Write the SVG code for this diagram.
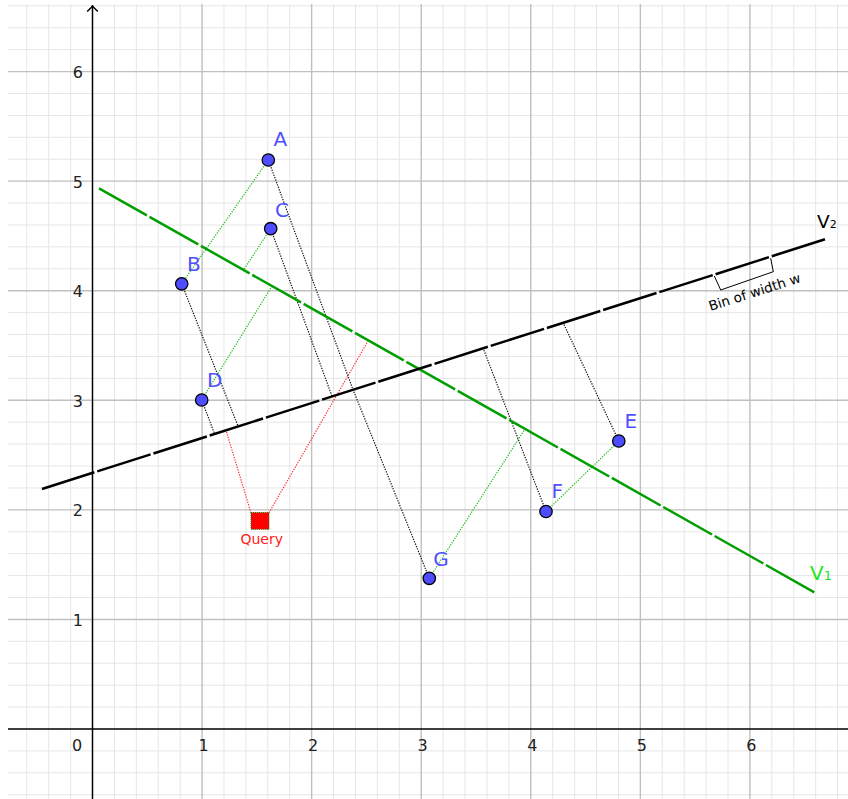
<svg xmlns="http://www.w3.org/2000/svg" width="848" height="799" viewBox="0 0 848 799">
<style>
.minor{stroke:#e6e6e6;stroke-width:1;fill:none}
.major{stroke:#c0c0c0;stroke-width:1.4;fill:none}
.axis{stroke:#000;stroke-width:1.5;fill:none}
.tick{font-family:"DejaVu Sans",sans-serif;font-size:16px;fill:#222}
.pt{fill:#4d4dff;stroke:#000;stroke-width:1.3}
.plabel{font-family:"DejaVu Sans",sans-serif;font-size:20px;fill:#5050ff}
.dg{stroke:#22bb22;stroke-width:1.2;stroke-dasharray:1.3 1.3;fill:none}
.dk{stroke:#111;stroke-width:1.2;stroke-dasharray:1.3 1.3;fill:none}
.dr{stroke:#ff3030;stroke-width:1.2;stroke-dasharray:1.3 1.3;fill:none}
.bin{stroke-width:2.5;stroke-dasharray:56 3;stroke-dashoffset:1;fill:none}
</style>
<rect width="848" height="799" fill="#fff"/>
<g id="grid">
<path class="minor" d="M26.76 4V799M48.67 4V799M70.59 4V799M114.41 4V799M136.33 4V799M158.24 4V799M180.16 4V799M223.98 4V799M245.9 4V799M267.81 4V799M289.73 4V799M333.55 4V799M355.47 4V799M377.38 4V799M399.3 4V799M443.12 4V799M465.04 4V799M486.95 4V799M508.87 4V799M552.69 4V799M574.61 4V799M596.52 4V799M618.44 4V799M662.26 4V799M684.18 4V799M706.09 4V799M728.01 4V799M771.83 4V799M793.75 4V799M815.66 4V799M837.58 4V799"/>
<path class="minor" d="M8 794.74H848M8 772.83H848M8 750.91H848M8 707.09H848M8 685.17H848M8 663.26H848M8 641.34H848M8 597.52H848M8 575.6H848M8 553.69H848M8 531.77H848M8 487.95H848M8 466.03H848M8 444.12H848M8 422.2H848M8 378.38H848M8 356.46H848M8 334.55H848M8 312.63H848M8 268.81H848M8 246.89H848M8 224.98H848M8 203.06H848M8 159.24H848M8 137.32H848M8 115.41H848M8 93.49H848M8 49.67H848M8 27.75H848M8 5.84H848"/>
<path class="major" d="M202.07 4V799M311.64 4V799M421.21 4V799M530.78 4V799M640.35 4V799M749.92 4V799M8 619.43H848M8 509.86H848M8 400.29H848M8 290.72H848M8 181.15H848M8 71.58H848"/>
</g>
<g id="axes">
<path class="axis" d="M92.5 5V799M8 729H848"/>
<path class="axis" d="M87.2 11.5L92.5 6.2L97.8 11.5"/>
<g class="tick" text-anchor="middle">
<text x="77" y="751">0</text>
<text x="203.6" y="751">1</text>
<text x="313.1" y="751">2</text>
<text x="422.7" y="751">3</text>
<text x="532.3" y="751">4</text>
<text x="641.8" y="751">5</text>
<text x="751.4" y="751">6</text>
</g>
<g class="tick" text-anchor="end">
<text x="83" y="625.5">1</text>
<text x="83" y="516">2</text>
<text x="83" y="406.5">3</text>
<text x="83" y="297">4</text>
<text x="83" y="187.5">5</text>
<text x="83" y="78">6</text>
</g>
</g>
<g id="connectors">
<path class="dg" d="M268.3 160L181.7 283.8"/>
<path class="dg" d="M270.7 228.7L243.5 269.9"/>
<path class="dg" d="M201.7 400L272 286"/>
<path class="dg" d="M429.3 578.3L525 429"/>
<path class="dg" d="M546 511.5L618.8 441"/>
<path class="dk" d="M181.7 283.8L238.2 426.5"/>
<path class="dk" d="M201.7 400L214.6 433.9"/>
<path class="dk" d="M270.7 228.7L332 396.2"/>
<path class="dk" d="M268.3 160L353 389.6L429.3 578.3"/>
<path class="dk" d="M618.8 441L563.2 322.9"/>
<path class="dk" d="M546 511.5L483.2 348.3"/>
<path class="dr" d="M251 512.8L226 430.3"/>
<path class="dr" d="M269 512.8L368.3 340.4"/>
</g>
<g id="V1">
<path class="bin" stroke="#009e00" d="M99 188.3L814.3 592.3"/>
<text x="810" y="580" font-family="DejaVu Sans,sans-serif" font-size="20" fill="#1ee81e">V<tspan font-size="13">1</tspan></text>
</g>
<g id="V2">
<path class="bin" stroke="#000" d="M42 489L825 239.3"/>
<text x="817" y="227.5" font-family="DejaVu Sans,sans-serif" font-size="18.5" fill="#000">V<tspan font-size="11">2</tspan></text>
</g>
<g id="bin-width">
<path d="M714.3 276L720.7 290L773.3 271.7L770.7 258.3" fill="none" stroke="#000" stroke-width="1"/>
<text transform="translate(756 296.5) rotate(-17.7)" text-anchor="middle" font-family="DejaVu Sans,sans-serif" font-size="13.5" fill="#000">Bin of width w</text>
</g>
<g id="A"><circle class="pt" cx="268.3" cy="160" r="6.2"/><text class="plabel" x="273.5" y="146">A</text></g>
<g id="B"><circle class="pt" cx="181.7" cy="283.8" r="6.2"/><text class="plabel" x="187" y="270.7">B</text></g>
<g id="C"><circle class="pt" cx="270.7" cy="228.7" r="6.2"/><text class="plabel" x="275" y="216.7">C</text></g>
<g id="D"><circle class="pt" cx="201.7" cy="400" r="6.2"/><text class="plabel" x="207" y="386.7">D</text></g>
<g id="E"><circle class="pt" cx="618.8" cy="441" r="6.2"/><text class="plabel" x="624.5" y="427.7">E</text></g>
<g id="F"><circle class="pt" cx="546" cy="511.5" r="6.2"/><text class="plabel" x="551.5" y="498.3">F</text></g>
<g id="G"><circle class="pt" cx="429.3" cy="578.3" r="6.2"/><text class="plabel" x="433.3" y="565.7">G</text></g>
<g id="Query">
<rect x="251" y="512.5" width="18" height="16.8" fill="#ff0000" stroke="#1a7a1a" stroke-width="1" stroke-dasharray="1 1"/>
<text x="261.7" y="544" text-anchor="middle" font-family="DejaVu Sans,sans-serif" font-size="14" fill="#ff2020">Query</text>
</g>
</svg>
